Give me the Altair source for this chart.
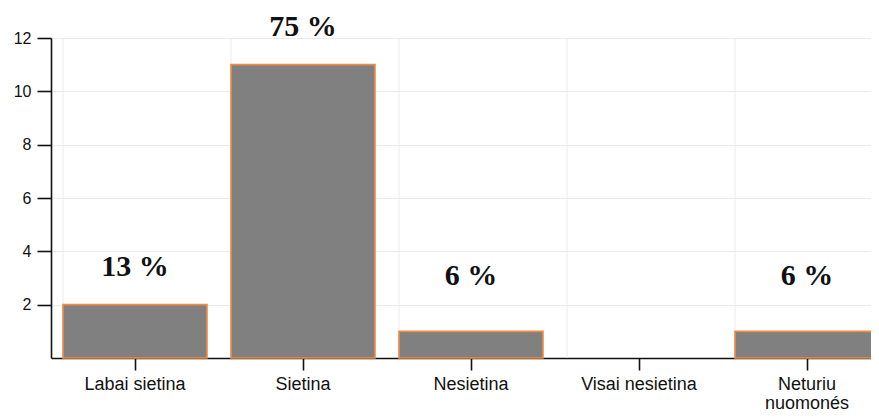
import altair as alt
import pandas as pd

categories = ["Labai sietina", "Sietina", "Nesietina", "Visai nesietina", "Neturiu\nnuomonés"]
counts = [2, 11, 1, 0, 1]
percent_labels = ["13 %", "75 %", "6 %", "", "6 %"]

df = pd.DataFrame({"cat": categories, "value": counts, "pct": percent_labels})

x_scale = alt.Scale(domain=categories, range=[0, 840], paddingInner=0.143, paddingOuter=0.0715)
y_scale = alt.Scale(domain=[0, 12], nice=False)

base = alt.Chart(df)

grid_v = base.mark_rule(color="#ebebeb", strokeWidth=1).encode(
    x=alt.X("cat:N", bandPosition=0, scale=x_scale, sort=categories, title=None)
)

bars = base.transform_filter("datum.value > 0").mark_bar(
    fill="#808080", stroke="#f28a3c", strokeWidth=1.6
).encode(
    x=alt.X("cat:N", scale=x_scale, sort=categories, title=None,
            axis=alt.Axis(labelExpr="split(datum.label, '\\n')", labelAngle=0,
                          labelAlign="center", labelBaseline="top",
                          tickSize=12, labelPadding=5, grid=False,
                          labelFont="Liberation Sans", labelFontSize=18,
                          labelLineHeight=19, labelColor="#111",
                          domainColor="#111", domainWidth=1.6,
                          tickColor="#111", tickWidth=1.6)),
    y=alt.Y("value:Q", scale=y_scale, title=None,
            axis=alt.Axis(values=[2, 4, 6, 8, 10, 12], tickSize=14, labelPadding=6,
                          grid=True, gridColor="#ebebeb",
                          labelFont="Liberation Sans", labelFontSize=16,
                          labelColor="#111", domainColor="#111", domainWidth=1.6,
                          tickColor="#111", tickWidth=1.6)),
)

texts = base.transform_filter("datum.value > 0").transform_calculate(
    labely="max(datum.value + 1.4, 3.08)"
).mark_text(
    font="Liberation Serif", fontSize=30, fontWeight="bold", baseline="middle", color="#111"
).encode(
    x=alt.X("cat:N", scale=x_scale, sort=categories),
    y=alt.Y("labely:Q", scale=y_scale),
    text="pct:N",
)

chart = alt.layer(grid_v, bars, texts).properties(
    width=820, height=320,
    autosize=alt.AutoSizeParams(type="none"),
    padding={"left": 43, "top": 30, "right": 0, "bottom": 54},
).configure_view(stroke=None)

chart.save("out.html", embed_options={"renderer": "svg", "actions": False})
